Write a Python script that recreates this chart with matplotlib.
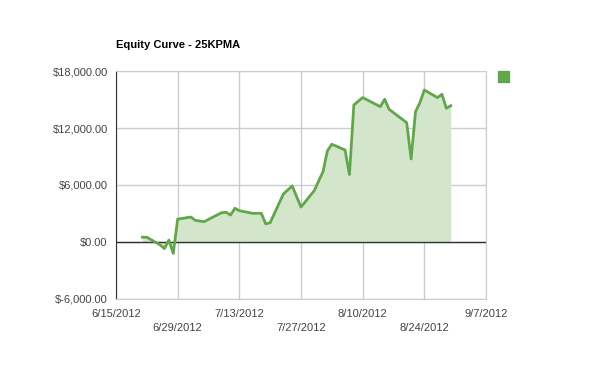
import matplotlib
matplotlib.use("Agg")
import matplotlib.pyplot as plt
import pandas as pd

dates = [
    "2012-06-21", "2012-06-22", "2012-06-25", "2012-06-26", "2012-06-27",
    "2012-06-28", "2012-06-29", "2012-07-02", "2012-07-03", "2012-07-05",
    "2012-07-09", "2012-07-10", "2012-07-11", "2012-07-12", "2012-07-13",
    "2012-07-16", "2012-07-18", "2012-07-19", "2012-07-20", "2012-07-23",
    "2012-07-25", "2012-07-27", "2012-07-30", "2012-08-01", "2012-08-02",
    "2012-08-03", "2012-08-06", "2012-08-07", "2012-08-08", "2012-08-10",
    "2012-08-14", "2012-08-15", "2012-08-16", "2012-08-20", "2012-08-21",
    "2012-08-22", "2012-08-23", "2012-08-24", "2012-08-27", "2012-08-28",
    "2012-08-29", "2012-08-30",
]
equity = [
    500, 500, -300, -700, 200,
    -1200, 2400, 2630, 2280, 2140,
    3090, 3130, 2840, 3550, 3300,
    3020, 3020, 1900, 2030, 5050,
    5900, 3680, 5400, 7400, 9600,
    10290, 9690, 7100, 14430, 15200,
    14250, 15030, 13970, 12560, 8740,
    13720, 14670, 16000, 15200, 15550,
    14080, 14350,
]
tick_dates = ["2012-06-15", "2012-06-29", "2012-07-13", "2012-07-27",
              "2012-08-10", "2012-08-24", "2012-09-07"]
tick_labels = ["6/15/2012", "6/29/2012", "7/13/2012", "7/27/2012",
               "8/10/2012", "8/24/2012", "9/7/2012"]
y_ticks = [-6000, 0, 6000, 12000, 18000]

LINE = "#62a64b"
FILL = "#d3e6cb"
GRID = "#cccccc"
TEXT = "#444444"

plt.rcParams["font.family"] = ["Liberation Sans", "DejaVu Sans"]

x = pd.to_datetime(dates)
ticks = pd.to_datetime(tick_dates)

fig = plt.figure(figsize=(6, 3.71), dpi=100)
ax = fig.add_axes([0.1933, 0.1941, 0.6167, 0.6145])

ax.fill_between(x, equity, 0, color=FILL, linewidth=0, zorder=1)
ax.plot(x, equity, color=LINE, linewidth=2, zorder=3)
ax.axhline(0, color="#333333", linewidth=1, zorder=2)

ax.set_xlim(ticks[0], ticks[-1])
ax.set_ylim(-6000, 18000)
ax.set_yticks(y_ticks)
ax.set_yticklabels([f"${v:,.2f}" if v >= 0 else f"$-{-v:,.2f}" for v in y_ticks])

# staggered date labels: even ones on the first row, odd ones below
ax.set_xticks(ticks[::2])
ax.set_xticklabels(tick_labels[::2])
ax.set_xticks(ticks[1::2], minor=True)
ax.set_xticklabels(tick_labels[1::2], minor=True)

ax.grid(True, which="both", color=GRID, linewidth=1, zorder=0)
ax.set_axisbelow(True)
ax.tick_params(axis="both", which="both", length=0, labelsize=8, colors=TEXT)
ax.tick_params(axis="x", which="major", pad=7)
ax.tick_params(axis="x", which="minor", pad=17)
ax.tick_params(axis="y", pad=6)

for side in ["top", "right", "bottom"]:
    ax.spines[side].set_color(GRID)
ax.spines["left"].set_color("#333333")

fig.text(116 / 600, 1 - 45 / 371, "Equity Curve - 25KPMA", fontsize=8,
         fontweight="bold", color="black", ha="left", va="center")

# legend marker with no label, as in the original
fig.patches.append(plt.Rectangle((498 / 600, 1 - 82 / 371), 11 / 600, 11 / 371,
                                 transform=fig.transFigure, color=LINE))

fig.savefig("out.png", dpi=100)
